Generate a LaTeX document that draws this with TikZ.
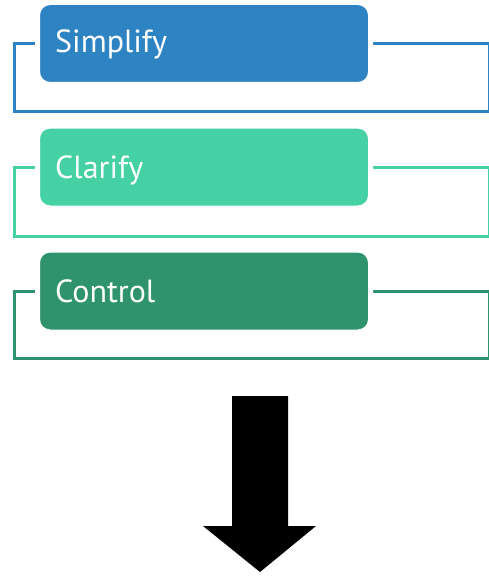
\documentclass[tikz,border=0pt]{standalone}
\usepackage{fontspec}
\setmainfont{PT Sans}
\definecolor{cblue}{RGB}{46,131,195}
\definecolor{cmint}{RGB}{69,209,163}
\definecolor{cgreen}{RGB}{47,148,110}
\tikzset{
  stagebox/.style={draw=white, line width=5pt, rounded corners=12.5pt,
    minimum width=333pt, minimum height=82pt, inner sep=0pt},
  bracket/.style={line width=3pt},
  label/.style={text=white, anchor=base west, inner sep=0pt,
    font=\fontsize{32}{38}\selectfont},
}
\begin{document}
\begin{tikzpicture}[x=1pt, y=-1pt]
  \useasboundingbox (0,0) rectangle (488,583);

  % frames behind each stage
  \coordinate (sA) at (14,43.5);  \coordinate (sB) at (489,112);
  \coordinate (cA) at (14,167.5); \coordinate (cB) at (489,236);
  \coordinate (kA) at (14,291);   \coordinate (kB) at (489,358);
  \draw[bracket, cblue]  (sA) rectangle (sB);
  \draw[bracket, cmint]  (cA) rectangle (cB);
  \draw[bracket, cgreen] (kA) rectangle (kB);

  % stage boxes
  \node[stagebox, fill=cblue]  (s) at (204,43.5) {};
  \node[stagebox, fill=cmint]  (c) at (204,167) {};
  \node[stagebox, fill=cgreen] (k) at (204,291) {};

  \node[label] (st) at (55,53)  {Simplify};
  \node[label] (ct) at (55,178) {Clarify};
  \node[label] (kt) at (55,302) {Control};

  % block arrow pointing down
  \fill[black] (232,396) -- (288,396) -- (288,526) -- (316,526)
    -- (260,572) -- (203,526) -- (232,526) -- cycle;
\end{tikzpicture}
\end{document}
